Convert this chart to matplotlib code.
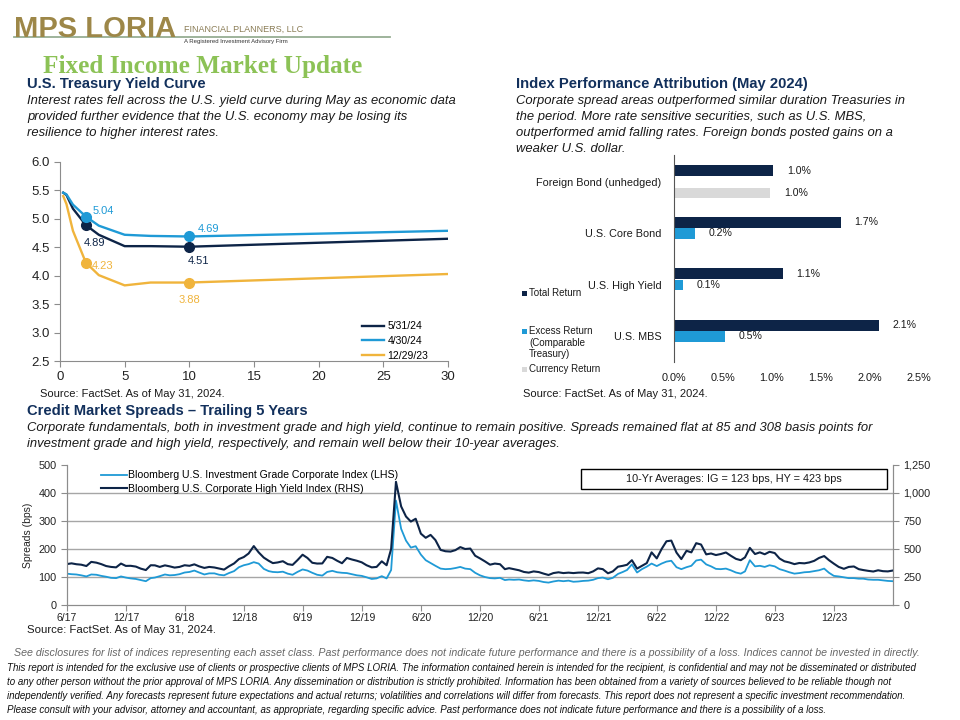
import matplotlib
matplotlib.use('Agg')
import matplotlib.pyplot as plt
from matplotlib.patches import Rectangle
from matplotlib.lines import Line2D
from matplotlib import font_manager
import matplotlib.ticker as mticker
import numpy as np
import pandas as pd

plt.rcParams['font.family'] = ['Liberation Sans', 'DejaVu Sans']

NAVY = '#0d2447'
BLUE = '#1f9ad6'
GOLD = '#f0b43c'
CURRENCY_GRAY = '#d9d9d9'
HEAD_NAVY = '#12305c'
AXIS_GRAY = '#8c8c8c'
TEXT = '#1a1a1a'

# ---- U.S. Treasury yield curve ----
maturities = [0.25, 0.5, 1, 2, 3, 5, 7, 10, 30]
curve_labels = ['5/31/24', '4/30/24', '12/29/23']
curve_may24 = [5.46, 5.42, 5.18, 4.89, 4.72, 4.52, 4.52, 4.51, 4.65]
curve_apr24 = [5.46, 5.43, 5.25, 5.04, 4.88, 4.72, 4.70, 4.69, 4.79]
curve_dec23 = [5.40, 5.26, 4.79, 4.23, 4.01, 3.83, 3.88, 3.88, 4.03]
marked_maturities = [2, 10]

# ---- index performance attribution (May 2024, %) ----
sectors = ['Foreign Bond (unhedged)', 'U.S. Core Bond', 'U.S. High Yield', 'U.S. MBS']
total_return = [1.01, 1.70, 1.11, 2.09]
excess_return = [np.nan, 0.21, 0.09, 0.52]
currency_return = [0.98, np.nan, np.nan, np.nan]
pct_ticks = [0.0, 0.5, 1.0, 1.5, 2.0, 2.5]

# ---- credit spreads, semi-monthly from 5/31/17 (bps) ----
ig_spread = [112,
             110, 109, 106, 102, 109, 108, 104, 101, 97, 96, 102, 98, 95, 93,
             89, 85, 96, 98, 103, 109, 106, 107, 110, 116, 118, 123,
             116, 109, 113, 113, 108, 106, 114, 121, 135, 142, 146, 153,
             148, 129, 121, 118, 117, 119, 112, 108, 118, 127, 123, 115,
             108, 105, 118, 122, 117, 115, 114, 110, 106, 104, 99, 93,
             95, 103, 95, 125, 373, 272, 230, 205, 210, 180, 160, 150,
             140, 130, 128, 129, 132, 136, 130, 128, 115, 106, 100, 96,
             95, 97, 89, 91, 90, 91, 88, 86, 88, 86, 82, 80,
             84, 87, 85, 87, 83, 84, 86, 87, 90, 96, 98, 92,
             97, 111, 118, 125, 145, 116, 128, 137, 148, 139, 148, 155,
             158, 135, 128, 135, 140, 159, 162, 145, 138, 129, 128, 130,
             124, 116, 112, 120, 160, 138, 140, 136, 142, 138, 128, 123,
             117, 112, 114, 117, 118, 121, 124, 130, 115, 104, 102, 99,
             96, 96, 94, 94, 91, 90, 90, 88, 86, 85]
hy_spread = [365,
             372, 364, 360, 348, 385, 378, 365, 348, 340, 336, 370, 349, 350, 343,
             325, 312, 355, 354, 340, 354, 345, 334, 340, 355, 350, 363,
             345, 331, 340, 335, 325, 316, 345, 371, 410, 428, 460, 526,
             470, 423, 395, 374, 380, 391, 365, 358, 400, 449, 420, 377,
             370, 371, 430, 420, 395, 373, 420, 406, 395, 381, 355, 336,
             340, 390, 355, 500, 1100, 880, 790, 745, 770, 637, 600, 626,
             580, 492, 480, 477, 490, 517, 500, 504, 440, 416, 390, 360,
             370, 364, 320, 329, 320, 310, 295, 289, 300, 294, 280, 268,
             285, 292, 285, 289, 285, 289, 290, 284, 300, 327, 320, 283,
             300, 342, 350, 359, 400, 325, 350, 374, 470, 416, 500, 569,
             575, 468, 410, 484, 470, 552, 540, 452, 460, 446, 455, 469,
             440, 412, 400, 425, 510, 455, 470, 453, 475, 464, 415, 390,
             380, 365, 375, 372, 380, 394, 420, 437, 400, 369, 340, 323,
             340, 344, 320, 312, 305, 299, 310, 302, 300, 308]
spread_tick_labels = ['6/17', '12/17', '6/18', '12/18', '6/19', '12/19', '6/20',
                      '12/20', '6/21', '12/21', '6/22', '12/22', '6/23', '12/23']

months = pd.date_range('2017-06-01', '2024-05-01', freq='MS')
spread_dates = [pd.Timestamp('2017-05-31')]
for m in months:
    spread_dates += [m + pd.Timedelta(days=14), m + pd.offsets.MonthEnd(0)]

W, H = 960, 720


def fx(px):
    return px / W


def fy(py):
    return 1 - py / H


fig = plt.figure(figsize=(9.6, 7.2), dpi=100)

# ---------------- header ----------------
fig.text(fx(14), fy(29), 'MPS LORIA', fontsize=21, fontweight='bold', color='#9d8748',
         va='center', ha='left')
fig.text(fx(184), fy(29), 'FINANCIAL PLANNERS, LLC', fontsize=6.5, color='#8a7c55',
         va='center', ha='left')
fig.text(fx(184), fy(42), 'A Registered Investment Advisory Firm', fontsize=4.3, color='#333333',
         va='center', ha='left')
fig.add_artist(Line2D([fx(14), fx(390)], [fy(37), fy(37)], transform=fig.transFigure,
                      color='#7d9a78', lw=1.3, alpha=0.8))
fig.text(fx(43), fy(66), 'Fixed Income Market Update', fontsize=18.2, fontweight='bold',
         color='#8cc256', family=['Liberation Serif', 'DejaVu Serif'], va='center', ha='left')


def section(x, y, title, lines):
    fig.text(fx(x), fy(y), title, fontsize=10.6, fontweight='bold', color=HEAD_NAVY,
             va='center', ha='left')
    for i, line in enumerate(lines):
        fig.text(fx(x), fy(y + 17 + 16 * i), line, fontsize=9.4, style='italic', color=TEXT,
                 va='center', ha='left')


section(27, 84, 'U.S. Treasury Yield Curve',
        ['Interest rates fell across the U.S. yield curve during May as economic data',
         'provided further evidence that the U.S. economy may be losing its',
         'resilience to higher interest rates.'])
section(516, 84, 'Index Performance Attribution (May 2024)',
        ['Corporate spread areas outperformed similar duration Treasuries in',
         'the period. More rate sensitive securities, such as U.S. MBS,',
         'outperformed amid falling rates. Foreign bonds posted gains on a',
         'weaker U.S. dollar.'])
section(27, 411, 'Credit Market Spreads \u2013 Trailing 5 Years',
        ['Corporate fundamentals, both in investment grade and high yield, continue to remain positive. '
         'Spreads remained flat at 85 and 308 basis points for',
         'investment grade and high yield, respectively, and remain well below their 10-year averages.'])

# ---------------- yield curve ----------------
ax1 = fig.add_axes([fx(60), fy(361), (448 - 60) / W, (361 - 162) / H])
colors = [NAVY, BLUE, GOLD]
curves = [curve_may24, curve_apr24, curve_dec23]
for curve, c, lab in zip(curves, colors, curve_labels):
    ax1.plot(maturities, curve, color=c, lw=1.7, label=lab)
for curve, c in zip(curves, colors):
    mv = [curve[maturities.index(m)] for m in marked_maturities]
    ax1.plot(marked_maturities, mv, 'o', color=c, ms=7, zorder=5)

# label offsets in pixels (dx, dy, ha) for each curve at 2y and 10y
label_offsets = [[(9, -18, 'center'), (9, -14, 'center')],
                 [(7, 6, 'left'), (8, 7, 'left')],
                 [(6, -3, 'left'), (0, -17, 'center')]]
for curve, c, offs in zip(curves, colors, label_offsets):
    for m, (dx, dy, ha) in zip(marked_maturities, offs):
        v = curve[maturities.index(m)]
        ax1.annotate(f'{v:.2f}', (m, v), xytext=(dx, dy), textcoords='offset pixels',
                     color=c, fontsize=8, ha=ha, va='center')

ax1.set_xlim(0, 30)
ax1.set_ylim(2.5, 6.0)
ax1.set_xticks(range(0, 31, 5))
ax1.set_yticks(np.arange(2.5, 6.01, 0.5))
ax1.yaxis.set_major_formatter(mticker.FormatStrFormatter('%.1f'))
for s in ['top', 'right']:
    ax1.spines[s].set_visible(False)
for s in ['left', 'bottom']:
    ax1.spines[s].set_color(AXIS_GRAY)
ax1.tick_params(colors=AXIS_GRAY, labelcolor='#222222', labelsize=9.5, length=4, width=0.8)
ax1.legend(loc='upper left', bbox_to_anchor=(fx(355), fy(314)), bbox_transform=fig.transFigure,
           frameon=False, fontsize=7.5, handlelength=2.1, handletextpad=0.3,
           labelspacing=0.45, borderpad=0.2)
fig.text(fx(40), fy(394), 'Source: FactSet. As of May 31, 2024.', fontsize=8, color=TEXT,
         va='center', ha='left')

# ---------------- attribution bars ----------------
ax2 = fig.add_axes([fx(674), fy(362), (919 - 674) / W, (362 - 155) / H])
pos = np.arange(len(sectors))
slot = 0.218
bar_h = 0.21
series = [(total_return, -slot, NAVY), (excess_return, 0.0, BLUE), (currency_return, slot, CURRENCY_GRAY)]
for vals, off, c in series:
    vals = np.array(vals, dtype=float)
    ok = ~np.isnan(vals)
    bars = ax2.barh(pos[ok] + off, vals[ok], height=bar_h, color=c)
    ax2.bar_label(bars, labels=[f'{v:.1f}%' for v in vals[ok]], padding=10, fontsize=7.6,
                  color=TEXT)
ax2.set_xlim(0, 2.5)
ax2.set_ylim(3.495, -0.52)
ax2.set_xticks(pct_ticks)
ax2.set_xticklabels([f'{t:.1f}%' for t in pct_ticks])
ax2.set_yticks(pos)
ax2.set_yticklabels(sectors)
for s in ['top', 'right', 'bottom']:
    ax2.spines[s].set_visible(False)
ax2.spines['left'].set_color('#555555')
ax2.tick_params(axis='x', length=0, pad=8, labelsize=7.8, labelcolor=TEXT)
ax2.tick_params(axis='y', length=0, pad=9, labelsize=7.8, labelcolor=TEXT)

legend_items = [(293, ['Total Return'], NAVY),
                (331, ['Excess Return', '(Comparable', 'Treasury)'], BLUE),
                (369, ['Currency Return'], CURRENCY_GRAY)]
for y, lines, c in legend_items:
    fig.add_artist(Rectangle((fx(522), fy(y + 2.5)), 5 / W, 5 / H, transform=fig.transFigure,
                             facecolor=c, edgecolor='none'))
    for i, line in enumerate(lines):
        fig.text(fx(529), fy(y + 11.5 * i), line, fontsize=7, color=TEXT, va='center', ha='left')
fig.text(fx(523), fy(394), 'Source: FactSet. As of May 31, 2024.', fontsize=8, color=TEXT,
         va='center', ha='left')

# ---------------- credit spreads ----------------
ax3 = fig.add_axes([fx(67), fy(605), (893 - 67) / W, (605 - 465) / H])
ax3.plot(spread_dates, ig_spread, color=BLUE, lw=1.3,
         label='Bloomberg U.S. Investment Grade Corporate Index (LHS)')
ax3r = ax3.twinx()
ax3r.plot(spread_dates, hy_spread, color=NAVY, lw=1.5,
          label='Bloomberg U.S. Corporate High Yield Index (RHS)')
ax3.set_ylim(0, 500)
ax3r.set_ylim(0, 1250)
ax3.set_yticks(range(0, 501, 100))
ax3r.set_yticks(range(0, 1251, 250))
ax3r.yaxis.set_major_formatter(mticker.FuncFormatter(lambda v, p: f'{int(v):,}'))
for gv in [100, 200, 300, 400]:
    ax3.axhline(gv, color='#a6a6a6', lw=1.0, zorder=0)
ax3.set_xlim(pd.Timestamp('2017-06-01'), pd.Timestamp('2024-05-31'))
tick_dates = pd.date_range('2017-06-01', '2023-12-01', freq='6MS')
ax3.set_xticks(tick_dates)
ax3.set_xticklabels(spread_tick_labels)
for a in (ax3, ax3r):
    a.spines['top'].set_visible(False)
    for s in ['left', 'right', 'bottom']:
        a.spines[s].set_color(AXIS_GRAY)
    a.tick_params(colors=AXIS_GRAY, labelcolor='#222222', labelsize=7.8, length=4, width=0.8)
ax3.tick_params(axis='x', labelsize=7.5, pad=2)
ax3.set_ylabel('Spreads (bps)', fontsize=7.5, color='#222222', labelpad=4)
h1, l1 = ax3.get_legend_handles_labels()
h2, l2 = ax3r.get_legend_handles_labels()
ax3r.legend(h1 + h2, l1 + l2, loc='upper left', bbox_to_anchor=(fx(94), fy(463)),
            bbox_transform=fig.transFigure, frameon=False, fontsize=7.6, handlelength=2.4,
            handletextpad=0.1, labelspacing=0.35, borderpad=0.2)
fig.add_artist(Rectangle((fx(581), fy(489)), 306 / W, 20 / H, transform=fig.transFigure,
                         facecolor='white', edgecolor='black', lw=1.0, zorder=5))
fig.text(fx(734), fy(479), '10-Yr Averages: IG = 123 bps, HY = 423 bps', fontsize=7.8,
         color=TEXT, ha='center', va='center', zorder=6)
fig.text(fx(27), fy(630), 'Source: FactSet. As of May 31, 2024.', fontsize=8.2, color=TEXT,
         va='center', ha='left')

# ---------------- footer ----------------
installed = {f.name for f in font_manager.fontManager.ttflist}
narrow = 'Liberation Sans Narrow' in installed
foot_family = ['Liberation Sans Narrow', 'DejaVu Sans'] if narrow else ['Liberation Sans', 'DejaVu Sans']
foot_size = 8.6 if narrow else 7.65
disc_size = 8.0 if narrow else 7.05
fig.text(fx(14), fy(653),
         'See disclosures for list of indices representing each asset class. Past performance does not '
         'indicate future performance and there is a possibility of a loss. Indices cannot be invested in directly.',
         fontsize=foot_size, style='italic', color='#666666', family=foot_family, va='center', ha='left')
disclaimer = [
    'This report is intended for the exclusive use of clients or prospective clients of MPS LORIA. The information '
    'contained herein is intended for the recipient, is confidential and may not be disseminated or distributed',
    'to any other person without the prior approval of MPS LORIA. Any dissemination or distribution is strictly '
    'prohibited. Information has been obtained from a variety of sources believed to be reliable though not',
    'independently verified. Any forecasts represent future expectations and actual returns; volatilities and '
    'correlations will differ from forecasts. This report does not represent a specific investment recommendation.',
    'Please consult with your advisor, attorney and accountant, as appropriate, regarding specific advice. Past '
    'performance does not indicate future performance and there is a possibility of a loss.',
]
for i, line in enumerate(disclaimer):
    fig.text(fx(7), fy(668 + 14 * i), line, fontsize=disc_size, style='italic', color='#111111',
             family=foot_family, va='center', ha='left')

fig.savefig('out.png', dpi=100)
